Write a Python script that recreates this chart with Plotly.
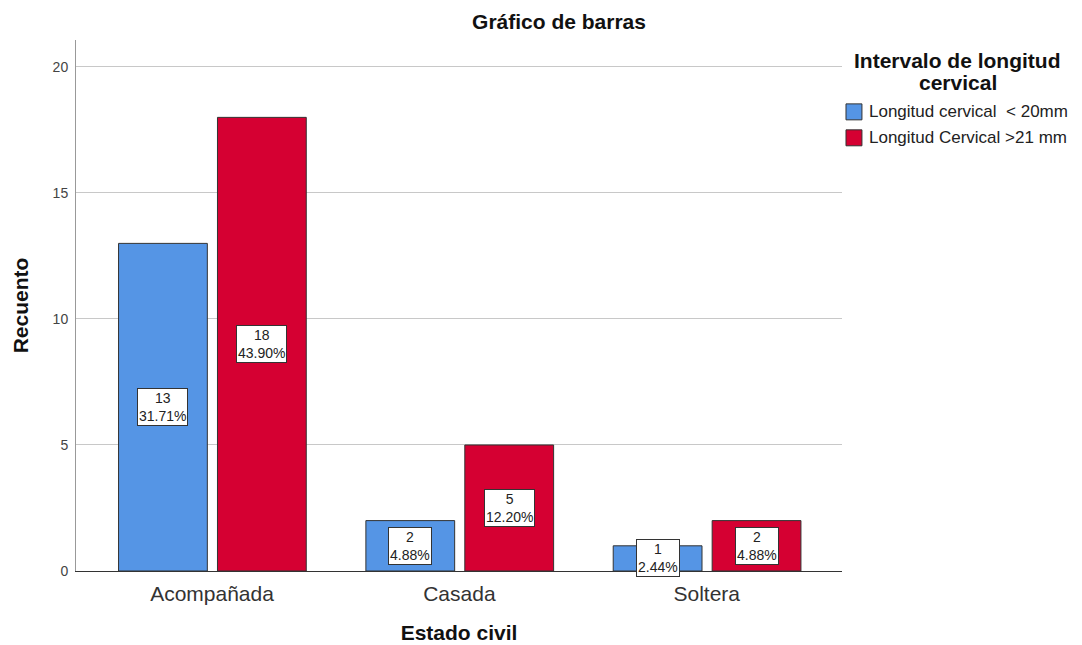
import plotly.graph_objects as go

# datos
estado_civil = ["Acompañada", "Casada", "Soltera"]
serie_corta = "Longitud cervical  < 20mm"
serie_larga = "Longitud Cervical >21 mm"
recuento_corta = [13, 2, 1]
recuento_larga = [18, 5, 2]
pct_corta = ["31.71%", "4.88%", "2.44%"]
pct_larga = ["43.90%", "12.20%", "4.88%"]
titulo_leyenda = ["Intervalo de longitud", "cervical"]

azul = "#5595E5"
rojo = "#D50032"
borde = "#333333"
fuente = "Arial, Liberation Sans"

ancho_barra = 0.359
off_corta = -0.378
off_larga = 0.022

fig = go.Figure()
fig.add_trace(go.Bar(x=estado_civil, y=recuento_corta, name=serie_corta,
                     width=ancho_barra, offset=off_corta, showlegend=False,
                     marker=dict(color=azul, line=dict(color=borde, width=1))))
fig.add_trace(go.Bar(x=estado_civil, y=recuento_larga, name=serie_larga,
                     width=ancho_barra, offset=off_larga, showlegend=False,
                     marker=dict(color=rojo, line=dict(color=borde, width=1))))

# etiquetas con caja blanca en el centro de cada barra
for i in range(len(estado_civil)):
    for val, pct, off in [(recuento_corta[i], pct_corta[i], off_corta),
                          (recuento_larga[i], pct_larga[i], off_larga)]:
        fig.add_annotation(x=i + off + ancho_barra / 2, y=val / 2, xref="x", yref="y",
                           text=f"{val}<br>{pct}", showarrow=False,
                           font=dict(family=fuente, size=14, color="#222222"),
                           bgcolor="white", bordercolor=borde, borderwidth=1,
                           borderpad=1)

# leyenda dibujada a mano (posiciones en pixeles de la pagina -> paper)
def px(xp):
    return (xp - 74) / 768

def py(yp):
    return (572 - yp) / 532

for linea, yp in zip(titulo_leyenda, [61, 83]):
    fig.add_annotation(x=px(958), y=py(yp), xref="paper", yref="paper",
                       text=f"<b>{linea}</b>", showarrow=False,
                       xanchor="center", yanchor="middle",
                       font=dict(family=fuente, size=21, color="#111111"))

for nombre, color, yp in [(serie_corta, azul, 112), (serie_larga, rojo, 138)]:
    fig.add_shape(type="rect", xref="paper", yref="paper",
                  x0=px(846), x1=px(862), y0=py(yp - 8), y1=py(yp + 8),
                  fillcolor=color, line=dict(color=borde, width=1))
    fig.add_annotation(x=px(867), y=py(yp), xref="paper", yref="paper",
                       text=nombre.replace("  ", " \u00a0"), showarrow=False,
                       xanchor="left", yanchor="middle",
                       font=dict(family=fuente, size=17, color="#222222"))

fig.update_layout(
    width=1082, height=645,
    margin=dict(l=66, r=248, t=32, b=81),
    paper_bgcolor="white", plot_bgcolor="white",
    font=dict(family=fuente, color="#222222"),
    title=dict(text="<b>Gráfico de barras</b>", x=551 / 1082, xanchor="center",
               y=1 - 14 / 645, yanchor="middle",
               font=dict(size=21, color="#111111")),
    barmode="group",
    showlegend=False,
    xaxis=dict(range=[-0.55, 2.547], showline=True, linecolor=borde, linewidth=1,
               ticks="", ticklabelstandoff=4, tickfont=dict(size=21, color="#333333"),
               title=dict(text="<b>Estado civil</b>", font=dict(size=21, color="#111111"),
                          standoff=21)),
    yaxis=dict(range=[0, 21.07], showline=True, linecolor="#999999", linewidth=1,
               showgrid=True, gridcolor="#C8C8C8", gridwidth=1, zeroline=False,
               tickvals=[0, 5, 10, 15, 20], ticks="", ticklabelstandoff=4,
               tickfont=dict(size=14, color="#444444"),
               title=dict(text="<b>Recuento</b>", font=dict(size=21, color="#111111"),
                          standoff=18)),
)

fig.write_html("out.html")
